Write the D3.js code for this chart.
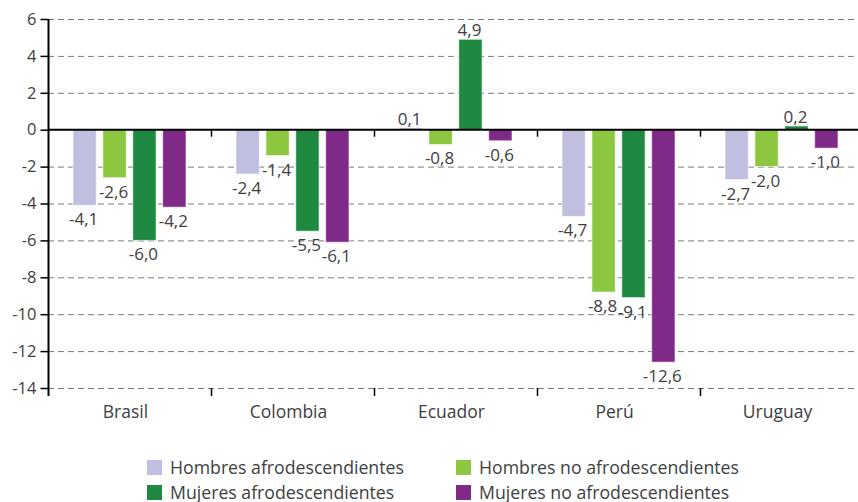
<!DOCTYPE html>
<html>
<head>
<meta charset="utf-8">
<script src="https://cdn.jsdelivr.net/npm/d3@7"></script>
<style>
  html, body { margin: 0; padding: 0; background: #fff; }
  svg text { font-family: "Open Sans", "Segoe UI", sans-serif; fill: #404040; }
</style>
</head>
<body>
<svg id="chart" width="858" height="502"></svg>
<script>
const countries = ["Brasil", "Colombia", "Ecuador", "Perú", "Uruguay"];
const seriesNames = ["Hombres afrodescendientes", "Hombres no afrodescendientes", "Mujeres afrodescendientes", "Mujeres no afrodescendientes"];
const hombresAfro   = [-4.1, -2.4, 0.1, -4.7, -2.7];
const hombresNoAfro = [-2.6, -1.4, -0.8, -8.8, -2.0];
const mujeresAfro   = [-6.0, -5.5, 4.9, -9.1, 0.2];
const mujeresNoAfro = [-4.2, -6.1, -0.6, -12.6, -1.0];
const yTicks = [6, 4, 2, 0, -2, -4, -6, -8, -10, -12, -14];
const colors = ["#c0bfe0", "#8dc63f", "#1f8841", "#7f2a89"];

const seriesValues = [hombresAfro, hombresNoAfro, mujeresAfro, mujeresNoAfro];

const svg = d3.select("#chart");
const mLeft = 48, mRight = 863, mTop = 19, mBottom = 388;

const y = d3.scaleLinear().domain([-14, 6]).range([mBottom, mTop]);
const x0 = d3.scaleBand().domain(countries).range([mLeft, mRight]).padding(0);
const x1 = d3.scaleBand().domain(seriesNames).range([25, 138]).paddingInner(0.22).paddingOuter(0);
const color = d3.scaleOrdinal().domain(seriesNames).range(colors);

const fmt = v => d3.format(".1f")(v).replace(".", ",").replace("−", "-");

// gridlines (dashed)
svg.append("g").selectAll("line")
  .data(yTicks.filter(t => t !== 0))
  .join("line")
  .attr("x1", mLeft).attr("x2", 858)
  .attr("y1", d => y(d) + 0.5).attr("y2", d => y(d) + 0.5)
  .attr("stroke", "#7a7a7a").attr("stroke-width", 1)
  .attr("stroke-dasharray", "6,4");

// y axis
const yAxis = d3.axisLeft(y).tickValues(yTicks).tickSize(8).tickPadding(4).tickFormat(d => String(d));
const gy = svg.append("g").attr("transform", `translate(${mLeft + 0.5},0)`).call(yAxis);
gy.select(".domain").remove();
gy.selectAll(".tick line").attr("stroke", "#000").attr("stroke-width", 1.5);
gy.selectAll(".tick text").attr("font-size", 16.5).attr("fill", "#404040")
  .style("font-family", '"Open Sans", sans-serif');
svg.append("line").attr("x1", mLeft + 0.5).attr("x2", mLeft + 0.5)
  .attr("y1", mTop).attr("y2", mBottom + 8).attr("stroke", "#000").attr("stroke-width", 2);

// bars
const groups = svg.append("g").selectAll("g")
  .data(countries)
  .join("g")
  .attr("transform", d => `translate(${x0(d)},0)`);

groups.selectAll("rect")
  .data((c, i) => seriesNames.map((s, j) => ({ s, v: seriesValues[j][i] })))
  .join("rect")
  .attr("x", d => x1(d.s))
  .attr("width", x1.bandwidth())
  .attr("y", d => y(Math.max(0, d.v)))
  .attr("height", d => Math.abs(y(d.v) - y(0)))
  .attr("fill", d => color(d.s))
  .attr("stroke", "#ffffff").attr("stroke-opacity", 0.6).attr("stroke-width", 1);

// value labels
groups.selectAll("text.val")
  .data((c, i) => seriesNames.map((s, j) => ({ s, v: seriesValues[j][i] })))
  .join("text")
  .attr("class", "val")
  .attr("x", d => x1(d.s) + x1.bandwidth() / 2 - 1)
  .attr("y", d => d.v < 0 ? y(d.v) + 20 : y(d.v) - 3)
  .attr("text-anchor", "middle")
  .attr("font-size", 17)
  .text(d => fmt(d.v));

// zero line
svg.append("line").attr("x1", mLeft).attr("x2", 858)
  .attr("y1", y(0)).attr("y2", y(0)).attr("stroke", "#000").attr("stroke-width", 2);

// category boundary ticks at zero line and bottom
const boundaries = countries.slice(1).map(c => x0(c));
svg.append("g").selectAll("line").data(boundaries).join("line")
  .attr("x1", d => d + 0.5).attr("x2", d => d + 0.5)
  .attr("y1", y(0)).attr("y2", y(0) + 7).attr("stroke", "#000").attr("stroke-width", 1.5);
svg.append("g").selectAll("line").data(boundaries).join("line")
  .attr("x1", d => d + 0.5).attr("x2", d => d + 0.5)
  .attr("y1", mBottom).attr("y2", mBottom + 8).attr("stroke", "#000").attr("stroke-width", 1.5);

// category labels
svg.append("g").selectAll("text").data(countries).join("text")
  .attr("x", d => x0(d) + x0.bandwidth() / 2 - 4)
  .attr("y", 418)
  .attr("text-anchor", "middle")
  .attr("font-size", 17.5)
  .text(d => d);

// legend
const legendPos = [[147, 460], [456, 460], [147, 485], [456, 485]];
const lg = svg.append("g").selectAll("g").data(seriesNames).join("g")
  .attr("transform", (d, i) => `translate(${legendPos[i][0]},${legendPos[i][1]})`);
lg.append("rect").attr("width", 15).attr("height", 15).attr("fill", d => color(d));
lg.append("text").attr("x", 23).attr("y", 14).attr("font-size", 17.7).text(d => d);
</script>
</body>
</html>
